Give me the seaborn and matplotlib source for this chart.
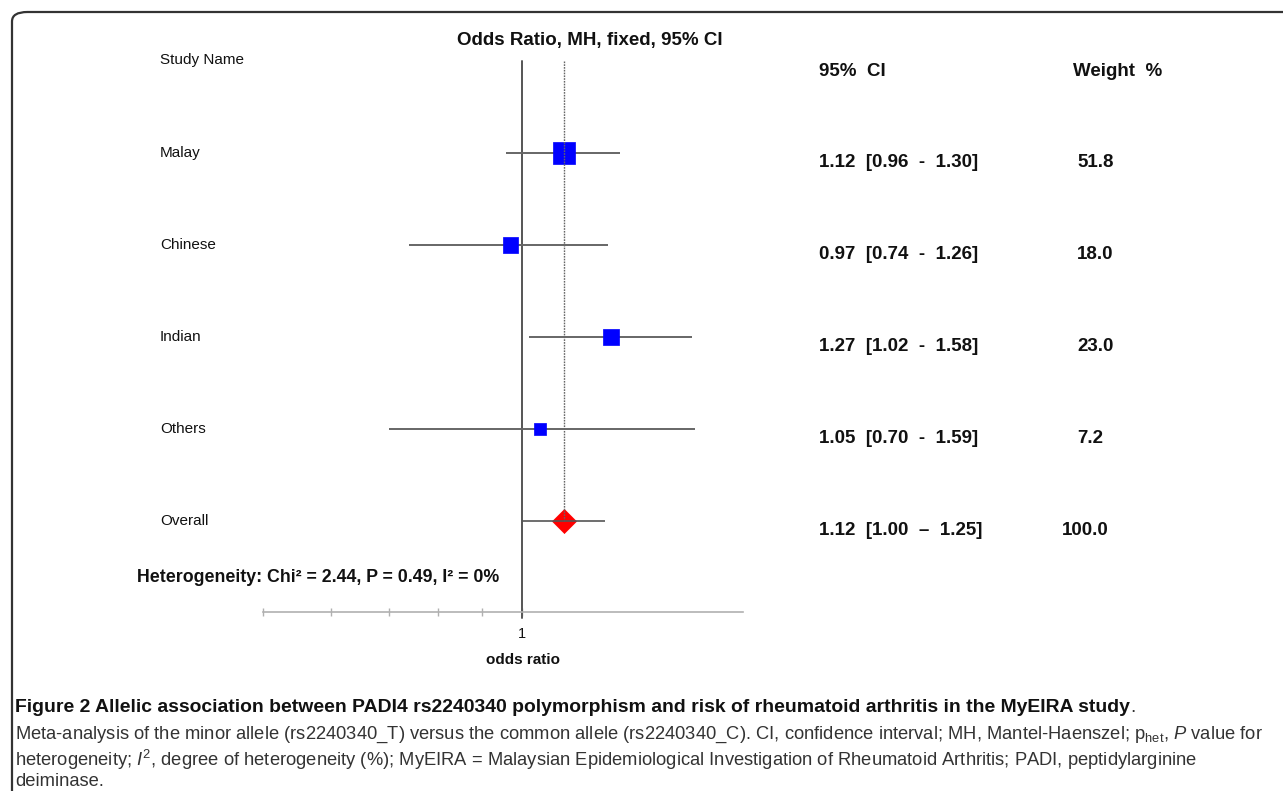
import numpy as np
import pandas as pd
import matplotlib
matplotlib.use("Agg")
import matplotlib.pyplot as plt
import seaborn as sns
from matplotlib import font_manager
from matplotlib.patches import FancyBboxPatch
from matplotlib.transforms import blended_transform_factory

# data
studies = ["Malay", "Chinese", "Indian", "Others"]
odds_ratio = [1.12, 0.97, 1.27, 1.05]
ci_low = [0.96, 0.74, 1.02, 0.70]
ci_high = [1.30, 1.26, 1.58, 1.59]
weights = [51.8, 18.0, 23.0, 7.2]

overall_label = "Overall"
overall_or = 1.12
overall_low = 1.00
overall_high = 1.25
overall_weight = 100.0

ci_text = ["1.12  [0.96  -  1.30]", "0.97  [0.74  -  1.26]", "1.27  [1.02  -  1.58]",
           "1.05  [0.70  -  1.59]", "1.12  [1.00  \u2013  1.25]"]
weight_text = ["51.8", "18.0", "23.0", "7.2", "100.0"]
x_ticks = [0.5, 0.6, 0.7, 0.8, 0.9, 1.0]

W, H = 1283, 791

sns.set_theme(style="white")
plt.rcParams["font.family"] = ["Liberation Sans", "DejaVu Sans"]


def have_font(name):
    try:
        font_manager.findfont(name, fallback_to_default=False)
        return True
    except Exception:
        return False


cap_font = "Liberation Sans Narrow" if have_font("Liberation Sans Narrow") else "Liberation Sans"
plt.rcParams["mathtext.fontset"] = "custom"
plt.rcParams["mathtext.rm"] = cap_font
plt.rcParams["mathtext.it"] = cap_font + ":italic"

fig = plt.figure(figsize=(W / 100, H / 100), dpi=100)


def fx(px):
    return px / W


def fy(py):
    return 1 - py / H


# forest plot axes (px coords from the reference)
ax = fig.add_axes([fx(263), fy(612), (743 - 263) / W, (612 - 61) / H])
ax.set_xscale("log")
ax.set_xlim(0.5, 1.81)
ax.set_ylim(4.99, -1.0)
ax.patch.set_alpha(0)

df = pd.DataFrame({"study": studies, "or": odds_ratio, "lo": ci_low,
                   "hi": ci_high, "weight": weights, "row": range(len(studies))})
r = len(studies)
df_all = pd.DataFrame({"or": [overall_or], "row": [r]})

# reference lines
ax.axvline(1.0, ymin=-0.01, ymax=1, color="#555555", lw=1.4, clip_on=False, zorder=1)
ax.vlines(overall_or, -1.0, r, color="#666666", lw=1.0,
          linestyles=(0, (1.2, 0.8)), zorder=4)

# CI lines
ax.hlines(df["row"], df["lo"], df["hi"], color="#666666", lw=1.4, zorder=2)

# squares sized by weight
side_px = 6 + 2.2 * np.sqrt(df["weight"])
area = {w: (s * 0.72) ** 2 for w, s in zip(df["weight"], side_px)}
sns.scatterplot(data=df, x="or", y="row", size="weight", sizes=area, marker="s",
                color="#0000FF", edgecolor="#0000FF", linewidth=0.5,
                legend=False, ax=ax, zorder=3)

# overall diamond
sns.scatterplot(data=df_all, x="or", y="row", marker="D", s=150, color="#FF0000",
                edgecolor="#FF0000", linewidth=0.5, legend=False, ax=ax, zorder=3)
ax.hlines(r, overall_low, overall_high, color="#555555", lw=1.2, zorder=5)

# axis styling
for s in ["top", "right", "left"]:
    ax.spines[s].set_visible(False)
ax.spines["bottom"].set_color("#b0b0b0")
ax.spines["bottom"].set_linewidth(1.2)
ax.set_yticks([])
ax.set_xticks(x_ticks)
ax.xaxis.set_minor_locator(matplotlib.ticker.NullLocator())
ax.set_xticklabels(["" if t != 1 else "1" for t in x_ticks], fontsize=10.5)
ax.tick_params(axis="x", direction="inout", length=6, width=1, color="#b0b0b0",
               pad=8, bottom=True, labelcolor="#111111")
ax.set_xlabel("")
ax.set_ylabel("")

# text columns
tr = blended_transform_factory(fig.transFigure, ax.transData)
fig.text(fx(590), fy(40), "Odds Ratio, MH, fixed, 95% CI", ha="center", va="center",
         fontsize=13.5, fontweight="bold", color="#111111")
fig.text(fx(160), fy(60), "Study Name", ha="left", va="center", fontsize=11,
         color="#111111")
fig.text(fx(819), fy(72), "95%  CI", ha="left", va="center", fontsize=13.5,
         fontweight="bold", color="#111111")
fig.text(fx(1073), fy(72), "Weight  %", ha="left", va="center", fontsize=13.5,
         fontweight="bold", color="#111111")
fig.text(fx(523), fy(660), "odds ratio", ha="center", va="center", fontsize=11,
         fontweight="bold", color="#111111")

labels = studies + [overall_label]
for i, lab in enumerate(labels):
    ax.text(fx(160), i, lab, transform=tr, ha="left", va="center", fontsize=11,
            color="#111111")
    ax.text(fx(819), i + 0.1, ci_text[i], transform=tr, ha="left", va="center",
            fontsize=13.5, fontweight="bold", color="#111111")
    ax.text(fx(1077) if i < 4 else fx(1062), i + 0.1, weight_text[i], transform=tr,
            ha="left", va="center", fontsize=13.5, fontweight="bold", color="#111111")

fig.text(fx(137), fy(578), "Heterogeneity: Chi\u00b2 = 2.44, P = 0.49, I\u00b2 = 0%",
         ha="left", va="center", fontsize=12.8, fontweight="bold", color="#111111")

# frame around the figure
frame = FancyBboxPatch((fx(12), -0.1), 1.2, fy(12) + 0.1,
                       boxstyle="round,pad=0,rounding_size=0.012",
                       transform=fig.transFigure, fill=False, edgecolor="#333333",
                       lw=1.6, clip_on=False)
fig.patches.append(frame)

# caption, sized to span the same width as in the reference
cap1 = ("Figure 2 Allelic association between PADI4 rs2240340 polymorphism and risk of "
        "rheumatoid arthritis in the MyEIRA study")
cap2 = ("Meta-analysis of the minor allele (rs2240340_T) versus the common allele "
        "(rs2240340_C). CI, confidence interval; MH, Mantel-Haenszel; "
        r"p$_{\mathrm{het}}$, $P$ value for")
cap3 = (r"heterogeneity; $I^{2}$, degree of heterogeneity (%); MyEIRA = Malaysian "
        "Epidemiological Investigation of Rheumatoid Arthritis; PADI, peptidylarginine")
cap4 = "deiminase."

t1 = fig.text(fx(15), fy(707), cap1, ha="left", va="center", fontsize=14,
              fontweight="bold", family=cap_font, color="#111111")
t2 = fig.text(fx(15), fy(735), cap2, ha="left", va="center", fontsize=14,
              family=cap_font, color="#333333")
fig.canvas.draw()
ren = fig.canvas.get_renderer()
s1 = 14 * (1133 - 15) / t1.get_window_extent(ren).width
s2 = 14 * (1263 - 15) / t2.get_window_extent(ren).width
t1.set_fontsize(s1)
t2.set_fontsize(s2)
t3 = fig.text(fx(15), fy(760), cap3, ha="left", va="center", fontsize=s2,
              family=cap_font, color="#333333")
fig.text(fx(15), fy(782), cap4, ha="left", va="center", fontsize=s2,
         family=cap_font, color="#333333")
fig.canvas.draw()
bb = t1.get_window_extent(ren)
fig.text(bb.x1 / W, fy(707), ".", ha="left", va="center", fontsize=s1,
         family=cap_font, color="#333333")

fig.savefig("out.png", dpi=100)
